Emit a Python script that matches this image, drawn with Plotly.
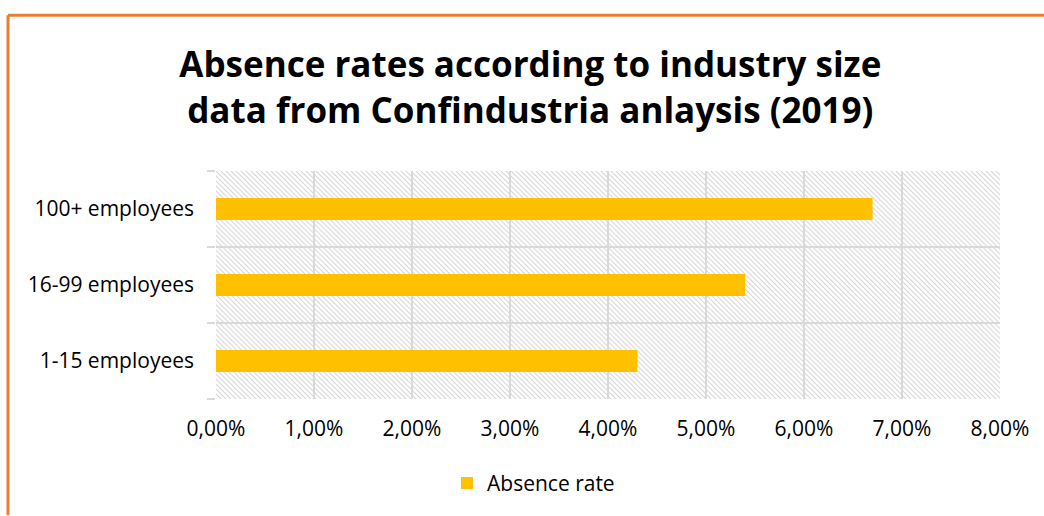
import base64
import plotly.graph_objects as go

categories = ["1-15 employees", "16-99 employees", "100+ employees"]
absence_rate = [0.043, 0.054, 0.067]
x_max = 0.08
x_tickvals = [0, 0.01, 0.02, 0.03, 0.04, 0.05, 0.06, 0.07, 0.08]

FONT = "Open Sans"

# hatched plot-area background as an svg pattern image
svg = ("<svg xmlns='http://www.w3.org/2000/svg' width='784' height='230' viewBox='0 0 784 230' "
       "preserveAspectRatio='none'><defs><pattern id='h' width='5' height='5' patternUnits='userSpaceOnUse'>"
       "<path d='M-1,-1 L6,6 M-1,4 L1,6 M4,-1 L6,1' stroke='#d6d6d6' stroke-width='1.15'/></pattern></defs>"
       "<rect width='784' height='230' fill='white'/><rect width='784' height='230' fill='url(#h)'/></svg>")
hatch_src = "data:image/svg+xml;base64," + base64.b64encode(svg.encode()).decode()

fig = go.Figure()
fig.add_trace(go.Bar(
    y=categories, x=absence_rate, orientation="h", width=0.29,
    name="Absence rate", marker=dict(color="#FFC000", line=dict(width=0))))

fig.update_layout(
    width=1044, height=516,
    margin=dict(l=216, r=44, t=171, b=115),
    paper_bgcolor="white", plot_bgcolor="rgba(0,0,0,0)",
    separators=",.",
    font=dict(family=FONT, size=21, color="#000000"),
    title=dict(text="<b>Absence rates according to industry size<br>data from Confindustria anlaysis (2019)</b>",
               x=0.508, xanchor="center", y=0.85, yanchor="middle",
               font=dict(family=FONT, size=35, color="#000000")),
    showlegend=True,
    legend=dict(orientation="h", x=0.405, xanchor="center", y=-0.28, yanchor="top",
                font=dict(family=FONT, size=21)),
    xaxis=dict(range=[0, x_max], tickvals=x_tickvals, tickformat=".2%",
               showgrid=True, gridcolor="#d9d9d9", gridwidth=2,
               zeroline=False, showline=False, ticks="", ticklabelstandoff=15),
    yaxis=dict(type="category", tickson="boundaries", showgrid=True,
               gridcolor="#d9d9d9", gridwidth=2, ticks="outside", ticklen=8,
               tickcolor="#d9d9d9", tickwidth=2, showline=False, zeroline=False,
               range=[-0.5, 2.5], ticklabelstandoff=21),
    images=[dict(source=hatch_src, xref="paper", yref="paper", x=0, y=1,
                 sizex=1, sizey=1, sizing="stretch", xanchor="left", yanchor="top",
                 layer="below")],
    shapes=[
        dict(type="line", xref="paper", yref="paper", x0=-0.2653, x1=1.06,
             y0=1.6826, y1=1.6826, line=dict(color="#ED7D31", width=3)),
        dict(type="line", xref="paper", yref="paper", x0=-0.2653, x1=-0.2653,
             y0=1.6826, y1=-0.51, line=dict(color="#ED7D31", width=3)),
    ],
)

fig.write_html("out.html")
